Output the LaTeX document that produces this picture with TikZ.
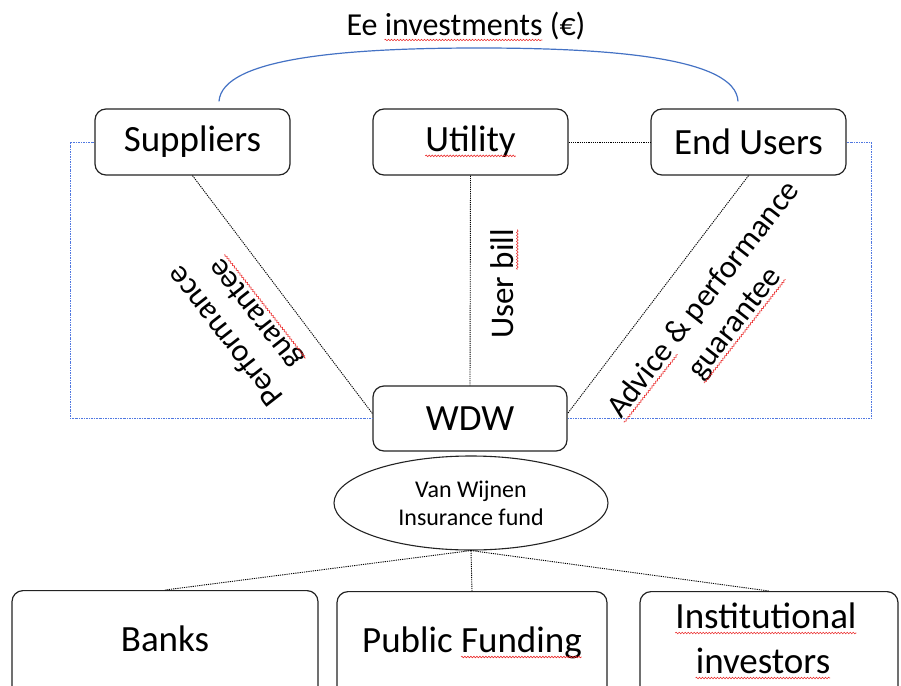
\documentclass[tikz,border=0pt]{standalone}
\usepackage{fontspec}
\setmainfont{Carlito}
\usetikzlibrary{shapes.geometric,decorations.pathmorphing}
\definecolor{boxline}{RGB}{35,35,35}
\definecolor{investblue}{RGB}{68,114,196}
\definecolor{frameblue}{RGB}{80,120,225}
\definecolor{spellred}{RGB}{235,45,45}
\newcommand\bigfont{\fontsize{37}{44}\selectfont}
\newcommand\midfont{\fontsize{32}{40}\selectfont}
\newcommand\billfont{\fontsize{33}{40}\selectfont}
% widths of words that carry a spelling mark
\newlength\wEe \newlength\wInv \newlength\wUtil \newlength\wUser \newlength\wBill
\newlength\wAdv \newlength\wGua \newlength\wPub \newlength\wFund
\newlength\wInst \newlength\wInvs
\settowidth\wEe{\midfont Ee }
\settowidth\wInv{\midfont investments}
\settowidth\wUtil{\bigfont Utility}
\settowidth\wUser{\billfont User }
\settowidth\wBill{\billfont bill}
\settowidth\wAdv{\midfont Advice}
\settowidth\wGua{\midfont guarantee}
\settowidth\wPub{\bigfont Public }
\settowidth\wFund{\bigfont Funding}
\settowidth\wInst{\bigfont Institutional}
\settowidth\wInvs{\bigfont investors}
\begin{document}
\begin{tikzpicture}[x=1pt,y=-1pt,
  box/.style={draw=boxline, line width=1.2pt, rounded corners=11pt,
    minimum width=195pt, minimum height=66pt, inner sep=0pt, font=\bigfont},
  lowbox/.style={box, anchor=north, minimum height=140pt},
  lowtext/.style={font=\bigfont, inner sep=0pt, anchor=base},
  fund/.style={draw=boxline, line width=1.1pt, ellipse, minimum width=274pt,
    minimum height=94pt, inner sep=0pt, align=center,
    font=\fontsize{24}{28}\selectfont},
  slanted/.style={font=\midfont, inner sep=0pt},
  link/.style={draw=black, line width=0.9pt, dash pattern=on 1.2pt off 1pt},
  framing/.style={draw=frameblue, line width=1pt,
    dash pattern=on 2pt off 1pt on 0.8pt off 1pt},
  invest/.style={draw=investblue, line width=1.2pt},
  spell/.style={draw=spellred, line width=0.6pt, decorate,
    decoration={snake, segment length=3pt, amplitude=0.8pt}}
]
\useasboundingbox (0,0) rectangle (901,685);

% upper row of partners
\node[box] (sup) at (192.5,142) {Suppliers};
\node[box] (util) at (470.5,142) {Utility};
\node[box] (eu) at (748.5,142) {End Users};

% central party and its fund
\node[box, minimum width=194pt, minimum height=65pt] (wdw) at (470,418.5) {WDW};
\node[fund] (vwf) at (471,503) {Van Wijnen\\Insurance fund};

% financing parties
\node[lowbox, minimum width=306pt] (banks) at (165,590) {};
\node[lowbox, minimum width=270pt] (pub) at (472,591) {};
\node[lowbox, minimum width=258pt] (inst) at (769,591) {};
\node[lowtext] (banks-t) at (165,651) {Banks};
\node[lowtext] (pub-t) at (472,652) {Public Funding};
\node[lowtext] (inst-a) at (766,628) {Institutional};
\node[lowtext] (inst-b) at (763,673) {investors};

% investment arc over the top row
\coordinate (arcL) at ([shift={(26.5pt,7pt)}]sup.north);
\coordinate (arcR) at ([shift={(-10.5pt,7pt)}]eu.north);
\coordinate (arcT) at (479,48);
\draw[invest] (arcL) .. controls +(3,-44) and +(-130,0) .. (arcT)
              .. controls +(130,0) and +(-2,-44) .. (arcR);
\node[font=\midfont, anchor=base, inner sep=0pt] (ee) at (466,36) {Ee investments (€)};

% dotted relations
\draw[link] (sup.south) -- ([yshift=5pt]wdw.west);
\draw[link] (util.south) -- (wdw.north);
\draw[link] (eu.south) -- ([yshift=5pt]wdw.east);
\draw[link] (util.east) -- (eu.west);
\draw[link] (vwf.south) -- (banks.north);
\draw[link] (vwf.south) -- (pub.north);
\draw[link] (vwf.south) -- (inst.north);

% blue frame around the relations
\coordinate (fl) at (70,0);
\coordinate (fr) at (871,0);
\draw[framing] (sup.west) -- (sup.west -| fl) |- (wdw.west);
\draw[framing] (eu.east) -- (eu.east -| fr) |- (wdw.east);

% relation labels
\node[slanted, rotate=128] (perf-a) at (224,337) {Performance};
\node[slanted, rotate=128] (perf-b) at (256,313) {guarantee};
\node[slanted, rotate=90, font=\billfont] (bill) at (502,284) {User bill};
\node[slanted, rotate=52] (adv-a) at (704,300) {Advice \& performance};
\node[slanted, rotate=52] (adv-b) at (736,324) {guarantee};

% spelling marks under words
\begin{scope}[shift={(ee.base west)}]
  \draw[spell] (\wEe,-4pt) -- ++(\wInv,0pt);
\end{scope}
\begin{scope}[shift={(util.base)}]
  \draw[spell] (-0.5\wUtil,-4pt) -- ++(\wUtil,0pt);
\end{scope}
\begin{scope}[shift={(bill.base west)}, rotate=90]
  \draw[spell] (\wUser,-4pt) -- ++(\wBill,0pt);
\end{scope}
\begin{scope}[shift={(perf-b.base west)}, rotate=128]
  \draw[spell] (0pt,-4pt) -- ++(\wGua,0pt);
\end{scope}
\begin{scope}[shift={(adv-a.base west)}, rotate=52]
  \draw[spell] (0pt,-4pt) -- ++(\wAdv,0pt);
\end{scope}
\begin{scope}[shift={(adv-b.base west)}, rotate=52]
  \draw[spell] (0pt,-4pt) -- ++(\wGua,0pt);
\end{scope}
\begin{scope}[shift={(pub-t.base west)}]
  \draw[spell] (\wPub,-5pt) -- ++(\wFund,0pt);
\end{scope}
\begin{scope}[shift={(inst-a.base west)}]
  \draw[spell] (0pt,-5pt) -- ++(\wInst,0pt);
\end{scope}
\begin{scope}[shift={(inst-b.base west)}]
  \draw[spell] (0pt,-5pt) -- ++(\wInvs,0pt);
\end{scope}
\end{tikzpicture}
\end{document}
